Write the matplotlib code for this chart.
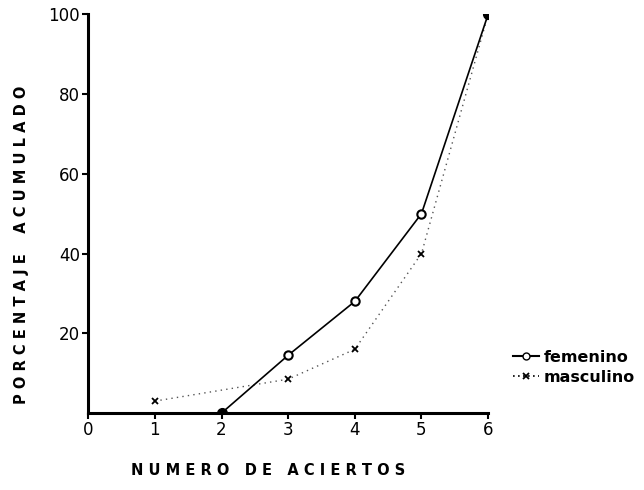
import matplotlib
matplotlib.use("Agg")
import matplotlib.pyplot as plt
from matplotlib.lines import Line2D

# Data
fem_x = [2, 3, 4, 5, 6]
fem_y = [0, 14.5, 28, 50, 100]
masc_x = [1, 3, 4, 5, 6]
masc_y = [3, 8.5, 16, 40, 100]
x_ticks = [0, 1, 2, 3, 4, 5, 6]
y_ticks = [20, 40, 60, 80, 100]

plt.rcParams['font.family'] = ['DejaVu Sans']

fig = plt.figure(figsize=(6.44, 4.9), dpi=100)
ax = fig.add_axes([0.137, 0.157, 0.621, 0.814])

# masculino: dotted line with x markers
ax.plot(masc_x, masc_y, linestyle=(0, (1, 3)), color='#555555', linewidth=1.0, zorder=2)
ax.plot(masc_x, masc_y, linestyle='none', marker='x', color='black', markersize=5,
        markeredgewidth=1.3, zorder=3)

# femenino: solid line with open circles, filled ends
ax.plot(fem_x, fem_y, color='black', linewidth=1.2, zorder=4)
ax.plot(fem_x[1:-1], fem_y[1:-1], linestyle='none', marker='o', markersize=6,
        markerfacecolor='white', markeredgecolor='black', markeredgewidth=1.5, zorder=5)
ax.plot([fem_x[0], fem_x[-1]], [fem_y[0], fem_y[-1]], linestyle='none', marker='o',
        markersize=7, color='black', zorder=5)

ax.set_xlim(0, 6)
ax.set_ylim(0, 100)
ax.set_xticks(x_ticks)
ax.set_xticklabels([str(t) for t in x_ticks])
ax.set_yticks(y_ticks)
ax.set_yticklabels([str(t) for t in y_ticks])

for s in ['top', 'right']:
    ax.spines[s].set_visible(False)
for s in ['left', 'bottom']:
    ax.spines[s].set_linewidth(2.2)
    ax.spines[s].set_clip_on(False)

ax.tick_params(axis='both', direction='out', length=4, width=1.5, labelsize=12, pad=2)

fig.text(22 / 644, 1 - 245 / 490, 'P O R C E N T A J E    A C U M U L A D O',
         rotation=90, ha='center', va='center', fontsize=10.5, fontweight='bold')
fig.text(268 / 644, 1 - 470 / 490, 'N U M E R O   D E   A C I E R T O S',
         ha='center', va='center', fontsize=10.5, fontweight='bold')

handles = [
    Line2D([0], [0], color='black', linewidth=1.5, marker='o', markersize=5,
           markerfacecolor='white', markeredgecolor='black'),
    Line2D([0], [0], color='black', linewidth=1.2, linestyle=(0, (1, 2)), marker='x',
           markersize=5, markeredgewidth=1.3),
]
fig.legend(handles, ['femenino', 'masculino'], loc='upper left',
           bbox_to_anchor=(0.775, 0.315), frameon=False, handlelength=1.6,
           handletextpad=0.3, labelspacing=0.3, prop={'weight': 'bold', 'size': 11.5})

fig.savefig('out.png', dpi=100)
